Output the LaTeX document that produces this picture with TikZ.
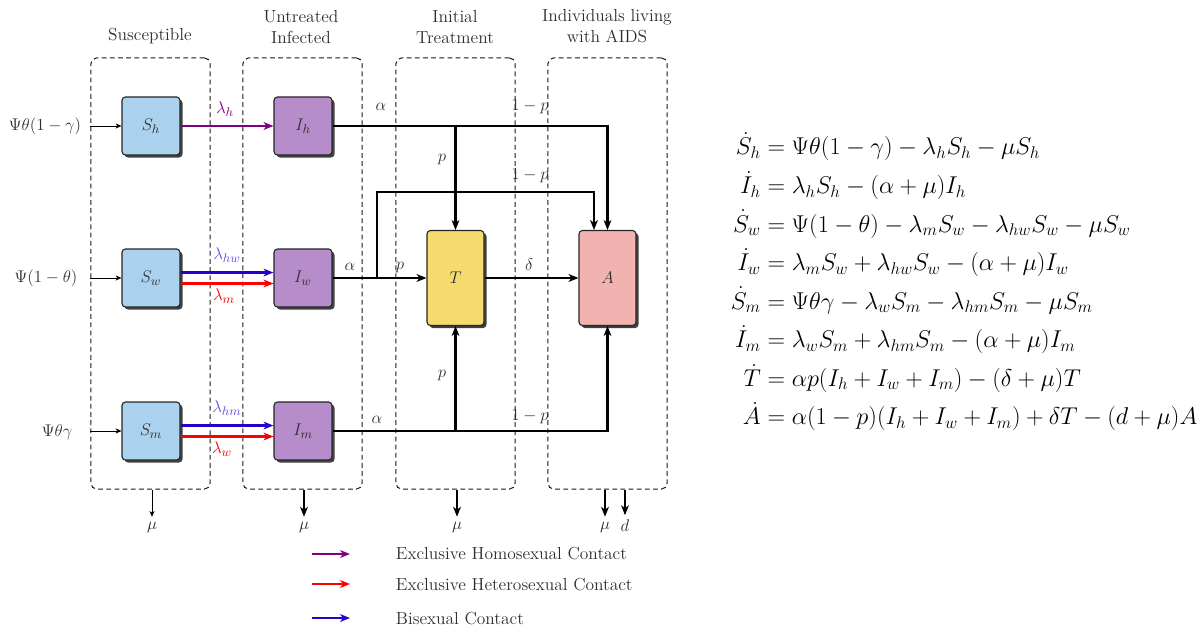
\documentclass[tikz,border=0pt]{standalone}
\usepackage{amsmath}
\usetikzlibrary{arrows.meta,shadows}
\definecolor{SusClr}{RGB}{170,210,238}
\definecolor{InfClr}{RGB}{183,140,203}
\definecolor{TreatClr}{RGB}{245,218,110}
\definecolor{AidsClr}{RGB}{242,178,175}
\definecolor{HomoClr}{RGB}{128,0,128}
\definecolor{HeteroClr}{RGB}{255,0,0}
\definecolor{BiClr}{RGB}{40,0,205}
\definecolor{TxtClr}{RGB}{45,45,45}

\begin{document}
\begin{tikzpicture}[x=0.025cm,y=-0.025cm,
  every node/.style={text=TxtClr,font=\fontsize{12.4}{15}\selectfont},
  comp/.style={draw=black!85,line width=0.8pt,rounded corners=2.5pt,
    minimum width=1.45cm,minimum height=1.45cm,inner sep=0pt,
    drop shadow={shadow xshift=1.8pt,shadow yshift=-1.8pt,fill=black!75,opacity=1}},
  grp/.style={draw=black!90,dash pattern=on 3.4pt off 2.4pt,line width=0.7pt,rounded corners=4pt,
    minimum width=2.975cm,minimum height=10.775cm},
  flow/.style={line width=1.6pt,-{Stealth[length=7pt,width=5.5pt,inset=2pt]}},
  thinflow/.style={line width=0.6pt,-{Stealth[length=4pt,width=3.5pt,inset=1pt]}},
  homo/.style={flow,draw=HomoClr},
  hetero/.style={flow,draw=HeteroClr},
  bi/.style={flow,draw=BiClr}]
\useasboundingbox (0,0) rectangle (1204,634);

% compartment groups
\node[grp] (gS) at (150.5,273.5) {};
\node[grp] (gI) at (302.5,273.5) {};
\node[grp] (gT) at (455.5,273.5) {};
\node[grp] (gA) at (607.5,273.5) {};

\node[align=center] at (150,36) {Susceptible};
\node[align=center] at (301,27) {Untreated\\Infected};
\node[align=center] at (455,27) {Initial\\Treatment};
\node[align=center] at (607,26) {Individuals living\\with AIDS};

% compartments
\node[comp,fill=SusClr] (Sh) at (151,126) {$S_h$};
\node[comp,fill=SusClr] (Sw) at (151,278) {$S_w$};
\node[comp,fill=SusClr] (Sm) at (151,431) {$S_m$};
\node[comp,fill=InfClr] (Ih) at (303,126) {$I_h$};
\node[comp,fill=InfClr] (Iw) at (303,278) {$I_w$};
\node[comp,fill=InfClr] (Im) at (303,431) {$I_m$};
\node[comp,fill=TreatClr,minimum width=1.425cm,minimum height=2.375cm] (T) at (455.5,278) {$T$};
\node[comp,fill=AidsClr,minimum width=1.425cm,minimum height=2.375cm] (A) at (607.5,278) {$A$};

% recruitment
\node (rh) at (45,126) {$\Psi\theta(1-\gamma)$};
\node (rw) at (46,278) {$\Psi(1-\theta)$};
\node (rm) at (57,432) {$\Psi\theta\gamma$};
\draw[thinflow] (gS.west |- Sh) -- (Sh);
\draw[thinflow] (gS.west |- Sw) -- (Sw);
\draw[thinflow] (gS.west |- Sm) -- (Sm);

% infection
\draw[homo] (Sh) -- (Ih);
\draw[bi] ([yshift=3.9pt]Sw.east) -- ([yshift=3.9pt]Iw.west);
\draw[hetero] ([yshift=-3.9pt]Sw.east) -- ([yshift=-3.9pt]Iw.west);
\draw[bi] ([yshift=3.9pt]Sm.east) -- ([yshift=3.9pt]Im.west);
\draw[hetero] ([yshift=-3.9pt]Sm.east) -- ([yshift=-3.9pt]Im.west);
\node[text=HomoClr] at (225,109) {$\lambda_h$};
\node[text=BiClr!70!white] at (227,255) {$\lambda_{hw}$};
\node[text=HeteroClr] at (224,296) {$\lambda_m$};
\node[text=BiClr!70!white] at (227,408) {$\lambda_{hm}$};
\node[text=HeteroClr] at (222,449) {$\lambda_w$};

% progression
\coordinate (jw) at (377,278);
\coordinate (kw) at (594,192);
\draw[flow] (Ih.east) -- (A.north |- Ih) -- (A.north);
\draw[flow] (T.north |- Ih) -- (T.north);
\draw[flow] (Iw.east) -- (T.west);
\draw[flow] (jw) -- (jw |- kw) -- (kw) -- (kw |- A.north);
\draw[flow] (Im.east) -- (A.south |- Im) -- (A.south);
\draw[flow] (T.south |- Im) -- (T.south);
\draw[flow] (T) -- (A);

\node at (381,107) {$\alpha$};
\node at (530,107) {$1-p$};
\node at (442,160) {$p$};
\node at (530,176) {$1-p$};
\node at (350,267) {$\alpha$};
\node at (400,267) {$p$};
\node at (529,265) {$\delta$};
\node at (442,375) {$p$};
\node at (377,420) {$\alpha$};
\node at (530,417) {$1-p$};

% deaths
\node (muS) at (152,527) {$\mu$};
\node (muI) at (304,527) {$\mu$};
\node (muT) at (457,527) {$\mu$};
\node (muA) at (605,527) {$\mu$};
\node (dA) at (625,526) {$d$};
\draw[thinflow] (gS.south -| muS) -- (muS.north);
\draw[flow] (gI.south -| muI) -- (muI.north);
\draw[flow] (gT.south -| muT) -- (muT.north);
\draw[flow] (gA.south -| muA) -- (muA.north);
\draw[flow] (gA.south -| dA) -- (dA.north);

% legend
\coordinate (lh) at (312,554);
\coordinate (lt) at (312,584);
\coordinate (lb) at (312,618);
\draw[homo] (lh) -- ++(38,0);
\draw[hetero] (lt) -- ++(38,0);
\draw[bi] (lb) -- ++(38,0);
\node[anchor=west] (lgH) at (391,554) {Exclusive Homosexual Contact};
\node[anchor=west] (lgT) at (391,585) {Exclusive Heterosexual Contact};
\node[anchor=west] (lgB) at (391,619) {Bisexual Contact};

% model equations
\node[anchor=west,text=black,font=\fontsize{16.7}{20}\selectfont] (eqs) at (726,283) {\setlength{\jot}{4.7pt}$\begin{aligned}
\dot{S}_h &= \Psi\theta(1-\gamma)-\lambda_hS_h-\mu S_h\\
\dot{I}_h &= \lambda_hS_h-(\alpha+\mu)I_h\\
\dot{S}_w &= \Psi(1-\theta)-\lambda_mS_w-\lambda_{hw}S_w-\mu S_w\\
\dot{I}_w &= \lambda_mS_w+\lambda_{hw}S_w-(\alpha+\mu)I_w\\
\dot{S}_m &= \Psi\theta\gamma-\lambda_wS_m-\lambda_{hm}S_m-\mu S_m\\
\dot{I}_m &= \lambda_wS_m+\lambda_{hm}S_m-(\alpha+\mu)I_m\\
\dot{T} &= \alpha p(I_h+I_w+I_m)-(\delta+\mu)T\\
\dot{A} &= \alpha(1-p)(I_h+I_w+I_m)+\delta T-(d+\mu)A
\end{aligned}$};
\end{tikzpicture}
\end{document}
